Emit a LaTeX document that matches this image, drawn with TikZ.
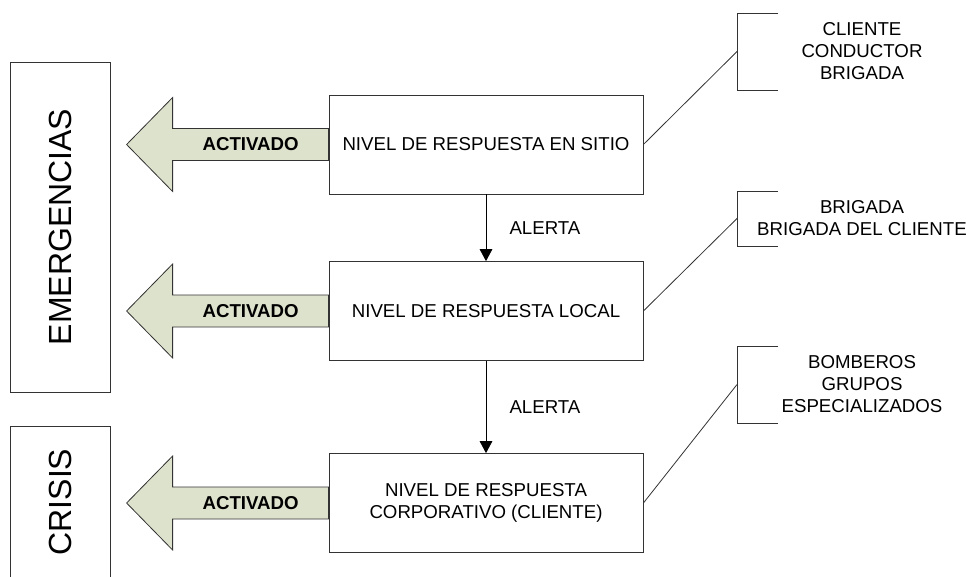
\documentclass[tikz,border=0pt]{standalone}
\usepackage{fontspec}
\setmainfont{Liberation Sans}
\usetikzlibrary{arrows.meta}

\definecolor{arrowfill}{RGB}{221,226,204}

\begin{document}
\begin{tikzpicture}[x=0.75pt,y=-0.75pt,
    font=\fontsize{14}{16.5}\selectfont,
    >={Triangle[length=9pt,width=9.5pt]}]
\useasboundingbox (0,0) rectangle (966,576);

% side boxes
\begin{scope}[every node/.style={draw=black!80,line width=0.6pt,rotate=90,
              minimum height=75pt,inner sep=0pt,font=\fontsize{24}{28}\selectfont}]
    \node[minimum width=247.5pt] (emerg)  at (60,227) {EMERGENCIAS};
    \node[minimum width=114pt]   (crisis) at (60,502) {CRISIS};
\end{scope}

% response levels
\begin{scope}[every node/.style={draw=black!80,line width=0.6pt,align=center,
              minimum width=235.5pt,minimum height=74.25pt,inner sep=0pt}]
    \node (b1) at (486,144.5) {NIVEL DE RESPUESTA EN SITIO};
    \node (b2) at (486,311)   {NIVEL DE RESPUESTA LOCAL};
    \node (b3) at (486,503)   {NIVEL DE RESPUESTA\\CORPORATIVO (CLIENTE)};
\end{scope}

% block arrows
\begin{scope}[every path/.style={draw=black!80,line width=0.6pt,fill=arrowfill},
              every node/.style={font=\bfseries\fontsize{14}{16.5}\selectfont}]
    \path (b1.west) ++(0,-16) -- ++(-156,0) -- ++(0,-31) -- ++(-46,47)
          -- ++(46,47) -- ++(0,-31) -- ++(156,0) -- cycle;
    \path (b2.west) ++(0,-16) -- ++(-156,0) -- ++(0,-31) -- ++(-46,47)
          -- ++(46,47) -- ++(0,-31) -- ++(156,0) -- cycle;
    \path (b3.west) ++(0,-16) -- ++(-156,0) -- ++(0,-31) -- ++(-46,47)
          -- ++(46,47) -- ++(0,-31) -- ++(156,0) -- cycle;
\end{scope}
\begin{scope}[every node/.style={font=\bfseries\fontsize{14}{16.5}\selectfont}]
    \node (act1) at ([xshift=-58.5pt]b1.west) {ACTIVADO};
    \node (act2) at ([xshift=-58.5pt]b2.west) {ACTIVADO};
    \node (act3) at ([xshift=-58.5pt]b3.west) {ACTIVADO};
\end{scope}

% alerts
\begin{scope}[every node/.style={anchor=west,xshift=14pt}]
    \draw[->,line width=0.6pt] (b1) -- (b2) node[midway] (al1) {ALERTA};
    \draw[->,line width=0.6pt] (b2) -- (b3) node[midway] (al2) {ALERTA};
\end{scope}

% who responds
\begin{scope}[every node/.style={align=center}]
    \node (who1) at (862,51)    {CLIENTE\\CONDUCTOR\\BRIGADA};
    \node (who2) at (862,218.5) {BRIGADA\\BRIGADA DEL CLIENTE};
    \node (who3) at (862,384.5) {BOMBEROS\\GRUPOS\\ESPECIALIZADOS};
\end{scope}
\coordinate (k1) at (737,51.5);
\coordinate (k2) at (737,218.5);
\coordinate (k3) at (737,384.5);

\begin{scope}[draw=black!80,line width=0.6pt]
    \draw (k1) ++(41,-38.5) -| ++(-41,77) -- ++(41,0);
    \draw (k2) ++(41,-27.5) -| ++(-41,55) -- ++(41,0);
    \draw (k3) ++(41,-38.5) -| ++(-41,77) -- ++(41,0);
    \draw (b1.east) -- (k1);
    \draw (b2.east) -- (k2);
    \draw (b3.east) -- (k3);
\end{scope}
\end{tikzpicture}
\end{document}
